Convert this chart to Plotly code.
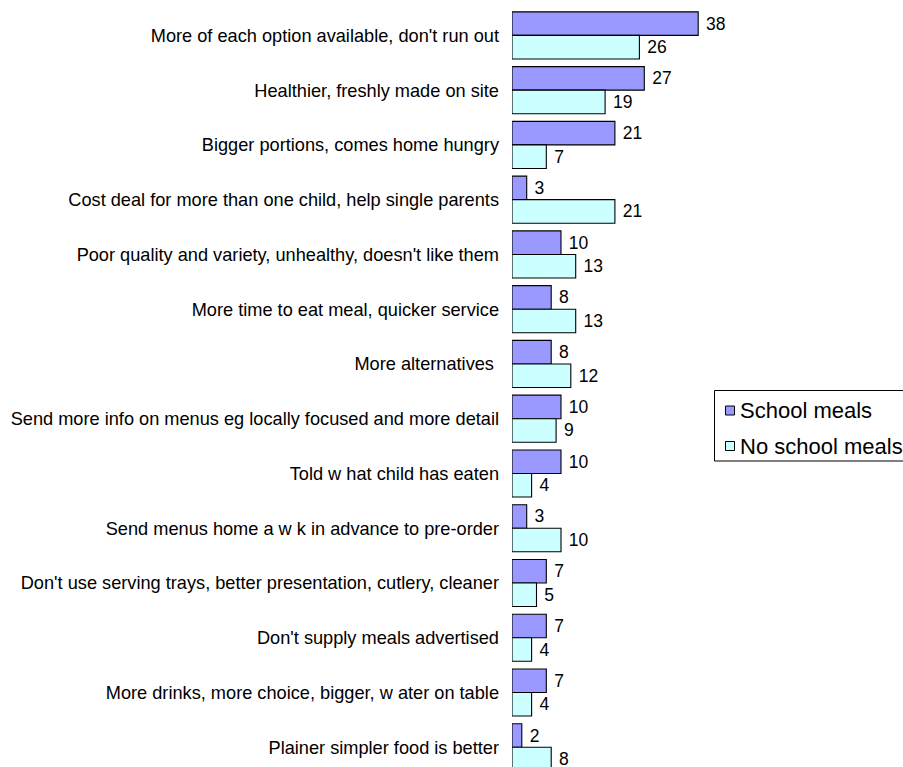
import plotly.graph_objects as go

categories = [
    "More of each option available, don't run out",
    "Healthier, freshly made on site",
    "Bigger portions, comes home hungry",
    "Cost deal for more than one child, help single parents",
    "Poor quality and variety, unhealthy, doesn't like them",
    "More time to eat meal, quicker service",
    "More alternatives ",
    "Send more info on menus eg locally focused and more detail",
    "Told w hat child has eaten",
    "Send menus home a w k in advance to pre-order",
    "Don't use serving trays, better presentation, cutlery, cleaner",
    "Don't supply meals advertised",
    "More drinks, more choice, bigger, w ater on table",
    "Plainer simpler food is better",
]
school_meals = [38, 27, 21, 3, 10, 8, 8, 10, 10, 3, 7, 7, 7, 2]
no_school_meals = [26, 19, 7, 21, 13, 13, 12, 9, 4, 10, 5, 4, 4, 8]
series_names = ["School meals", "No school meals"]
series_colors = ["#9999FF", "#CCFFFF"]

FONT = "Liberation Sans, Arial, sans-serif"
W, H = 903, 767
ML, MR, MT, MB = 512, 0, 8, 0
PW, PH = W - ML - MR, H - MT - MB


def px(x):
    return (x - ML) / PW


def py(y):
    return (H - MB - y) / PH


fig = go.Figure()
for name, vals, col in zip(series_names, [school_meals, no_school_meals], series_colors):
    fig.add_trace(go.Bar(
        y=categories, x=vals, orientation="h", name=name,
        marker=dict(color=col, line=dict(color="black", width=1.1)),
        text=vals, texttemplate=" %{x}", textposition="outside", cliponaxis=False,
        textfont=dict(family=FONT, size=17.5, color="black"),
        showlegend=False,
    ))

# legend drawn to match the original's compact layout
shapes = [dict(type="rect", xref="paper", yref="paper",
               x0=px(714.5), x1=px(915), y0=py(461), y1=py(390.5),
               line=dict(color="black", width=1), fillcolor="white", layer="above")]
annotations = []
for i, (name, col) in enumerate(zip(series_names, series_colors)):
    cy = 410.5 + i * 35.5
    shapes.append(dict(type="rect", xref="paper", yref="paper",
                       x0=px(725.5), x1=px(734.5), y0=py(cy + 4.5), y1=py(cy - 4.5),
                       line=dict(color="black", width=1), fillcolor=col, layer="above"))
    annotations.append(dict(xref="paper", yref="paper", x=px(737.5), y=py(cy),
                            xanchor="left", yanchor="middle", text=name, showarrow=False,
                            font=dict(family=FONT, size=22, color="black")))

fig.update_layout(
    width=W, height=H,
    margin=dict(l=ML, r=MR, t=MT, b=MB),
    paper_bgcolor="white", plot_bgcolor="white",
    barmode="group", bargap=0.14, bargroupgap=0,
    font=dict(family=FONT, size=18, color="black"),
    showlegend=False,
    shapes=shapes, annotations=annotations,
    xaxis=dict(range=[0, PW / 4.9], visible=False, showgrid=False, zeroline=False,
               automargin=False),
    yaxis=dict(
        range=[13.36, -0.5], showgrid=False, zeroline=False, showline=False,
        ticks="", ticklabelstandoff=12, automargin=False,
        tickfont=dict(family=FONT, size=18.2, color="black"),
    ),
)

fig.write_html("out.html")
